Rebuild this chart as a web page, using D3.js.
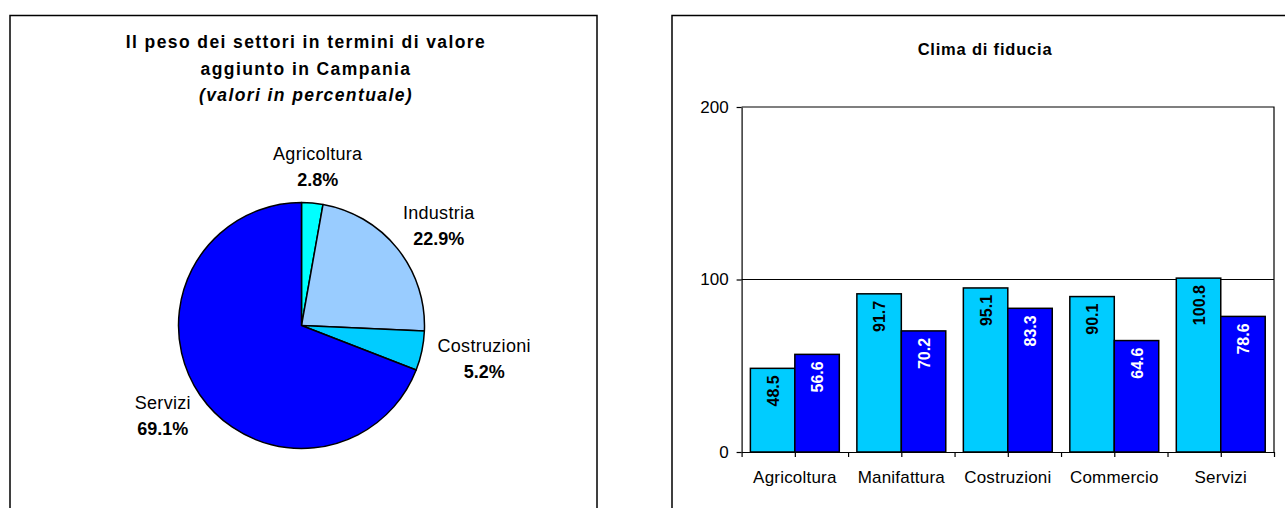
<!DOCTYPE html>
<html>
<head>
<meta charset="utf-8">
<script src="https://cdn.jsdelivr.net/npm/d3@7"></script>
<style>
  body { margin: 0; background: #fff; }
  text { font-family: "Liberation Sans", Arial, sans-serif; fill: #000; }
</style>
</head>
<body>
<svg id="chart"></svg>
<script>
// pie data
const sectors = ["Agricoltura", "Industria", "Costruzioni", "Servizi"];
const sectorShares = [2.8, 22.9, 5.2, 69.1];
const sectorColors = ["#00FFFF", "#99CCFF", "#00CCFF", "#0000FF"];
const pieTitle = ["Il peso dei settori in termini di valore", "aggiunto in Campania", "(valori in percentuale)"];

// bar data
const categories = ["Agricoltura", "Manifattura", "Costruzioni", "Commercio", "Servizi"];
const seriesA = [48.5, 91.7, 95.1, 90.1, 100.8];
const seriesB = [56.6, 70.2, 83.3, 64.6, 78.6];
const seriesColors = ["#00CCFF", "#0000FF"];
const seriesTextColors = ["#000", "#fff"];
const yTicks = [0, 100, 200];
const barTitle = "Clima di fiducia";

const W = 1285, H = 508;
const svg = d3.select("#chart").attr("width", W).attr("height", H);

// panel frames
svg.append("rect").attr("x", 10).attr("y", 15.5).attr("width", 587).attr("height", 600)
  .attr("fill", "none").attr("stroke", "#000").attr("stroke-width", 1.5);
svg.append("rect").attr("x", 672).attr("y", 15.5).attr("width", 700).attr("height", 600)
  .attr("fill", "none").attr("stroke", "#000").attr("stroke-width", 1.5);

// ---------- pie ----------
const pieG = svg.append("g");
pieTitle.forEach((t, i) => {
  pieG.append("text")
    .attr("x", 306).attr("y", 48 + i * 26.5)
    .attr("text-anchor", "middle")
    .style("font-size", "17.5px").style("font-weight", "bold")
    .style("letter-spacing", "1.4px")
    .style("font-style", i === 2 ? "italic" : "normal")
    .text(t);
});

const cx = 301.5, cy = 325.5, r = 123;
const pie = d3.pie().sort(null).value(d => d)(sectorShares);
const arc = d3.arc().innerRadius(0).outerRadius(r);
const g = pieG.append("g").attr("transform", `translate(${cx},${cy})`);
g.selectAll("path").data(pie).enter().append("path")
  .attr("d", arc)
  .attr("fill", (d, i) => sectorColors[i])
  .attr("stroke", "#000").attr("stroke-width", 1.5).attr("stroke-linejoin", "round");

// labels outside, box pushed away from the pie
const labR = r + 17, boxH = 39;
pie.forEach((d, i) => {
  const a = (d.startAngle + d.endAngle) / 2;
  const lg = g.append("g");
  const t1 = lg.append("text").attr("text-anchor", "middle")
    .style("font-size", "18px").style("letter-spacing", "0.3px").text(sectors[i]);
  const t2 = lg.append("text").attr("text-anchor", "middle")
    .style("font-size", "18px").style("font-weight", "bold").text(sectorShares[i].toFixed(1) + "%");
  const w = Math.max(t1.node().getComputedTextLength(), t2.node().getComputedTextLength());
  const lx = Math.sin(a) * labR + Math.sin(a) * w / 2;
  const ly = -Math.cos(a) * labR - Math.cos(a) * boxH / 2;
  t1.attr("x", lx).attr("y", ly - 6.5);
  t2.attr("x", lx).attr("y", ly + 19.5);
});

// ---------- bars ----------
const x0 = 741.6, x1 = 1274, yBot = 452, yTop = 107;
const x = d3.scaleBand().domain(categories).range([x0, x1]).paddingInner(0.165).paddingOuter(0.0825);
const xs = d3.scaleBand().domain([0, 1]).range([0, x.bandwidth()]);
const y = d3.scaleLinear().domain([0, 200]).range([yBot, yTop]);

svg.append("text").attr("x", 985).attr("y", 55).attr("text-anchor", "middle")
  .style("font-size", "16.5px").style("font-weight", "bold").style("letter-spacing", "0.8px")
  .text(barTitle);

// frame + gridline
svg.append("path")
  .attr("d", `M${x0},${y(200)}H${x1}V${yBot}`)
  .attr("fill", "none").attr("stroke", "#000").attr("stroke-width", 1.2);
svg.append("line").attr("x1", x0).attr("x2", x1).attr("y1", y(100)).attr("y2", y(100))
  .attr("stroke", "#000").attr("stroke-width", 1.2);

const bars = svg.append("g");
[seriesA, seriesB].forEach((vals, s) => {
  bars.selectAll(null).data(vals).enter().append("rect")
    .attr("x", (d, i) => x(categories[i]) + xs(s))
    .attr("y", d => y(d))
    .attr("width", xs.bandwidth())
    .attr("height", d => yBot - y(d))
    .attr("fill", seriesColors[s])
    .attr("stroke", "#000").attr("stroke-width", 1.5);
  bars.selectAll(null).data(vals).enter().append("text")
    .attr("transform", (d, i) => {
      const bx = x(categories[i]) + xs(s) + xs.bandwidth() / 2 + 6;
      return `translate(${bx},${y(d) + 7}) rotate(-90)`;
    })
    .attr("text-anchor", "end")
    .style("font-size", "16px").style("font-weight", "bold")
    .style("fill", seriesTextColors[s])
    .text(d => d.toFixed(1));
});

// y axis
const yAxis = svg.append("g").attr("transform", `translate(${x0},0)`)
  .call(d3.axisLeft(y).tickValues(yTicks).tickSize(5).tickSizeOuter(0).tickPadding(8));
yAxis.selectAll("text").style("font-size", "17px").attr("fill", "#000");
yAxis.selectAll("line, path").attr("stroke", "#000").attr("stroke-width", 1.2);

// x axis: ticks at every half band
const xt = d3.scaleLinear().domain([0, categories.length * 2]).range([x0, x1]);
const xAxis = svg.append("g").attr("transform", `translate(0,${yBot})`)
  .call(d3.axisBottom(xt).tickValues(d3.range(categories.length * 2 + 1)).tickFormat("").tickSize(5).tickSizeOuter(0));
xAxis.selectAll("line, path").attr("stroke", "#000").attr("stroke-width", 1.2);
const xLab = svg.append("g").attr("transform", `translate(0,${yBot})`)
  .call(d3.axisBottom(x).tickSize(0).tickPadding(19));
xLab.select(".domain").remove();
xLab.selectAll("text").style("font-size", "17px").style("letter-spacing", "0.2px").attr("fill", "#000");
</script>
</body>
</html>
